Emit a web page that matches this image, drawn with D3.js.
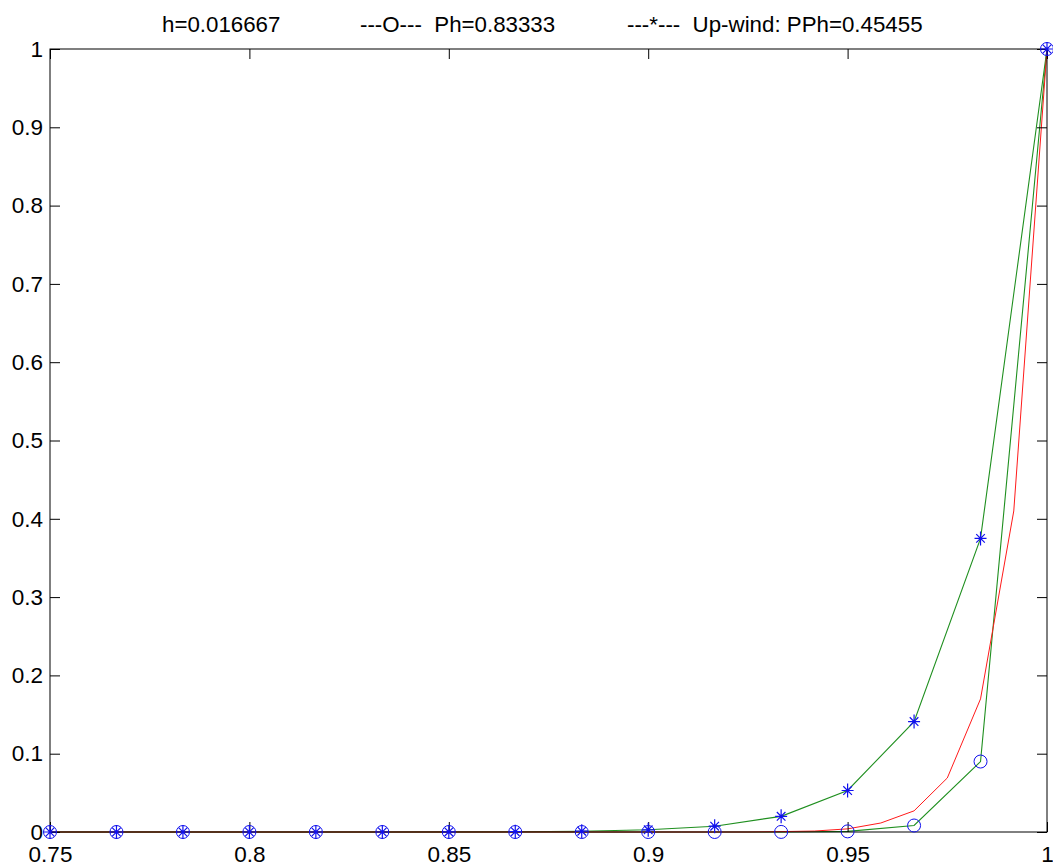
<!DOCTYPE html>
<html>
<head>
<meta charset="utf-8">
<script src="https://cdn.jsdelivr.net/npm/d3@7"></script>
<style>
  html, body { margin: 0; padding: 0; background: #fff; }
  svg { display: block; }
  text { font-family: Arial, "Liberation Sans", sans-serif; fill: #000; }
</style>
</head>
<body>
<svg id="chart" width="1053" height="866"></svg>
<script>
// ---- Data ----
const gridX = [0.75, 0.766667, 0.783333, 0.8, 0.816667, 0.833333, 0.85, 0.866667, 0.883333,
               0.9, 0.916667, 0.933333, 0.95, 0.966667, 0.983333, 1.0];
const centralY = [0, 0, 0, 0, 0, 0, 0, 0, 0, 0, 0.00001, 0.0001, 0.0008, 0.0083, 0.09, 1.0];
const upwindY  = [0, 0, 0, 0, 0, 0, 0.0001, 0.0004, 0.001, 0.0028, 0.0074, 0.02, 0.053, 0.141, 0.375, 1.0];
const fineX = [0.75, 0.758333, 0.766667, 0.775, 0.783333, 0.791667, 0.8, 0.808333, 0.816667, 0.825,
               0.833333, 0.841667, 0.85, 0.858333, 0.866667, 0.875, 0.883333, 0.891667, 0.9, 0.908333,
               0.916667, 0.925, 0.933333, 0.941667, 0.95, 0.958333, 0.966667, 0.975, 0.983333, 0.991667, 1.0];
const exactY = [0, 0, 0, 0, 0, 0, 0, 0, 0, 0,
                0, 0, 0, 0, 0, 0, 0, 0, 0, 0,
                0, 0, 0.0005, 0.0012, 0.004, 0.0115, 0.027, 0.069, 0.17, 0.41, 1.0];
const xTicks = [0.75, 0.8, 0.85, 0.9, 0.95, 1];
const xTickLabels = ["0.75", "0.8", "0.85", "0.9", "0.95", "1"];
const yTicks = [0, 0.1, 0.2, 0.3, 0.4, 0.5, 0.6, 0.7, 0.8, 0.9, 1];
const yTickLabels = ["0", "0.1", "0.2", "0.3", "0.4", "0.5", "0.6", "0.7", "0.8", "0.9", "1"];
const titleParts = ["h=0.016667", "---O---  Ph=0.83333", "---*---  Up-wind: PPh=0.45455"];

// ---- Layout ----
const L = 50, R = 1047, T = 49, B = 832;
const svg = d3.select("#chart");
const x = d3.scaleLinear().domain([0.75, 1]).range([L, R]);
const y = d3.scaleLinear().domain([0, 1]).range([B, T]);

const green = "#1f8f1f";
const red = "#ff1a1a";
const blue = "#1010ee";
const fontFam = "Arial, 'Liberation Sans', sans-serif";
const tickFont = 22.5;

// lines
const line = d3.line().x(d => x(d[0])).y(d => y(d[1]));
svg.append("path").datum(gridX.map((v, i) => [v, upwindY[i]]))
  .attr("d", line).attr("fill", "none").attr("stroke", green).attr("stroke-width", 1.1);
svg.append("path").datum(gridX.map((v, i) => [v, centralY[i]]))
  .attr("d", line).attr("fill", "none").attr("stroke", green).attr("stroke-width", 1.1);
svg.append("path").datum(fineX.map((v, i) => [v, exactY[i]]))
  .attr("d", line).attr("fill", "none").attr("stroke", red).attr("stroke-width", 1);

// axes box with inward ticks
const tickLen = 10;
svg.append("rect").attr("x", L).attr("y", T).attr("width", R - L).attr("height", B - T)
  .attr("fill", "none").attr("stroke", "#000").attr("stroke-width", 1);

const bottomAxis = d3.axisBottom(x).tickValues(xTicks).tickSizeInner(-tickLen).tickSizeOuter(0)
  .tickFormat((d, i) => xTickLabels[i]).tickPadding(14);
const gb = svg.append("g").attr("transform", `translate(0,${B})`).call(bottomAxis);
gb.select(".domain").remove();
gb.selectAll("text").attr("font-size", tickFont).attr("font-family", fontFam).attr("fill", "#000");
gb.selectAll("line").attr("stroke", "#000");

const topAxis = d3.axisTop(x).tickValues(xTicks).tickSizeInner(-tickLen).tickSizeOuter(0).tickFormat("");
const gt = svg.append("g").attr("transform", `translate(0,${T})`).call(topAxis);
gt.select(".domain").remove();
gt.selectAll("line").attr("stroke", "#000");

const leftAxis = d3.axisLeft(y).tickValues(yTicks).tickSizeInner(-tickLen).tickSizeOuter(0)
  .tickFormat((d, i) => yTickLabels[i]).tickPadding(7);
const gl = svg.append("g").attr("transform", `translate(${L},0)`).call(leftAxis);
gl.select(".domain").remove();
gl.selectAll("text").attr("font-size", tickFont).attr("font-family", fontFam).attr("fill", "#000");
gl.selectAll("line").attr("stroke", "#000");

const rightAxis = d3.axisRight(y).tickValues(yTicks).tickSizeInner(-tickLen).tickSizeOuter(0).tickFormat("");
const gr = svg.append("g").attr("transform", `translate(${R},0)`).call(rightAxis);
gr.select(".domain").remove();
gr.selectAll("line").attr("stroke", "#000");

// markers
const star = "M-6,0L6,0M0,-7L0,7M-4.3,-4.3L4.3,4.3M-4.3,4.3L4.3,-4.3";
svg.append("g").selectAll("circle").data(gridX.map((v, i) => [v, centralY[i]])).join("circle")
  .attr("cx", d => x(d[0])).attr("cy", d => y(d[1])).attr("r", 6.5)
  .attr("fill", "none").attr("stroke", blue).attr("stroke-width", 1);
svg.append("g").selectAll("path").data(gridX.map((v, i) => [v, upwindY[i]])).join("path")
  .attr("transform", d => `translate(${x(d[0])},${y(d[1])})`).attr("d", star)
  .attr("fill", "none").attr("stroke", blue).attr("stroke-width", 1.2);

// title
const titleX = [162, 360, 627];
svg.append("g").selectAll("text").data(titleParts).join("text")
  .attr("x", (d, i) => titleX[i]).attr("y", 32)
  .attr("font-size", 22.3)
  .style("white-space", "pre").attr("xml:space", "preserve")
  .text(d => d);
</script>
</body>
</html>
